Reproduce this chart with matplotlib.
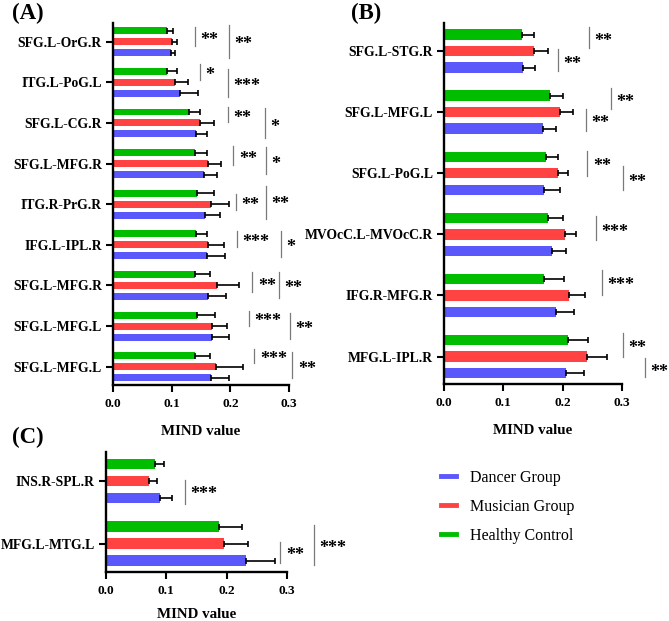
import numpy as np
import matplotlib
matplotlib.use("Agg")
import matplotlib.pyplot as plt
from matplotlib.lines import Line2D

plt.rcParams['font.family'] = ['Liberation Serif', 'DejaVu Serif']

# ---------------- data ----------------
groups = ['Dancer Group', 'Musician Group', 'Healthy Control']
colors = ['#5a57fb', '#ff4343', '#00bd00']

A_labels = ['SFG.L-OrG.R', 'ITG.L-PoG.L', 'SFG.L-CG.R', 'SFG.L-MFG.R', 'ITG.R-PrG.R',
            'IFG.L-IPL.R', 'SFG.L-MFG.R', 'SFG.L-MFG.L', 'SFG.L-MFG.L']
A_dancer = [0.099, 0.114, 0.1415, 0.155, 0.157, 0.161, 0.162, 0.169, 0.1665]
A_dancer_err = [0.0067, 0.031, 0.0185, 0.022, 0.026, 0.030, 0.031, 0.028, 0.0305]
A_musician = [0.100, 0.1057, 0.148, 0.162, 0.1665, 0.162, 0.177, 0.169, 0.176]
A_musician_err = [0.0085, 0.0213, 0.024, 0.0215, 0.0315, 0.027, 0.037, 0.026, 0.046]
A_control = [0.0915, 0.0915, 0.1295, 0.139, 0.1426, 0.1415, 0.140, 0.144, 0.140]
A_control_err = [0.0105, 0.0175, 0.0185, 0.021, 0.029, 0.0195, 0.025, 0.030, 0.026]

B_labels = ['SFG.L-STG.R', 'SFG.L-MFG.L', 'SFG.L-PoG.L', 'MVOcC.L-MVOcC.R',
            'IFG.R-MFG.R', 'MFG.L-IPL.R']
B_dancer = [0.133, 0.1666, 0.168, 0.182, 0.1885, 0.2054]
B_dancer_err = [0.020, 0.0224, 0.027, 0.023, 0.0305, 0.0306]
B_musician = [0.1525, 0.195, 0.1925, 0.2037, 0.211, 0.241]
B_musician_err = [0.0235, 0.023, 0.0165, 0.0193, 0.0265, 0.034]
B_control = [0.1317, 0.179, 0.1716, 0.175, 0.1677, 0.2088]
B_control_err = [0.0193, 0.021, 0.0209, 0.026, 0.0343, 0.0337]

C_labels = ['INS.R-SPL.R', 'MFG.L-MTG.L']
C_dancer = [0.0897, 0.2324]
C_dancer_err = [0.020, 0.047]
C_musician = [0.0714, 0.196]
C_musician_err = [0.0127, 0.039]
C_control = [0.0813, 0.1865]
C_control_err = [0.015, 0.0393]

x_ticks = [0.0, 0.1, 0.2, 0.3]
x_ticklabels = ['0.0', '0.1', '0.2', '0.3']
x_title = 'MIND value'

# significance marks: (row, x of bar line, y-start offset, y-end offset, stars, text y offset)
A_sig = [(0, 0.140, -0.35, 0.10, '**', -0.12), (0, 0.198, -0.40, 0.40, '**', 0.0),
         (1, 0.148, -0.46, -0.06, '*', -0.26), (1, 0.1955, -0.33, 0.36, '***', 0.01),
         (2, 0.1955, -0.40, -0.02, '**', -0.20), (2, 0.259, -0.37, 0.37, '*', 0.02),
         (3, 0.205, -0.43, 0.04, '**', -0.19), (3, 0.261, -0.41, 0.26, '*', -0.06),
         (4, 0.209, -0.25, 0.15, '**', -0.05), (4, 0.261, -0.44, 0.37, '**', -0.07),
         (5, 0.211, -0.33, 0.06, '***', -0.14), (5, 0.286, -0.33, 0.31, '*', -0.01),
         (6, 0.2375, -0.32, 0.17, '**', -0.05), (6, 0.283, -0.32, 0.30, '**', 0.0),
         (7, 0.232, -0.38, -0.01, '***', -0.19), (7, 0.302, -0.33, 0.33, '**', 0.01),
         (8, 0.241, -0.44, -0.10, '***', -0.25), (8, 0.3057, -0.37, 0.27, '**', -0.01)]
B_sig = [(0, 0.2437, -0.39, -0.05, '**', -0.21), (0, 0.192, -0.03, 0.33, '**', 0.16),
         (1, 0.281, -0.40, -0.05, '**', -0.22), (1, 0.2386, -0.05, 0.31, '**', 0.13),
         (2, 0.2414, -0.37, 0.04, '**', -0.17), (2, 0.301, -0.12, 0.27, '**', 0.09),
         (3, 0.256, -0.30, 0.10, '***', -0.09),
         (4, 0.266, -0.41, 0.0, '***', -0.21),
         (5, 0.301, -0.38, 0.0, '**', -0.18), (5, 0.338, 0.02, 0.33, '**', 0.20)]
C_sig = [(0, 0.131, -0.02, 0.36, '***', 0.17),
         (1, 0.289, -0.03, 0.31, '**', 0.14), (1, 0.344, -0.30, 0.34, '***', 0.02)]

# ---------------- figure ----------------
W, H = 669, 621
fig = plt.figure(figsize=(W / 100, H / 100), dpi=100)


def px_axes(x0, y0, x1, y1):
    return fig.add_axes([x0 / W, 1 - y1 / H, (x1 - x0) / W, (y1 - y0) / H])


def draw_panel(ax, labels, series, errs, sigs, labelpad):
    n = len(labels)
    y = np.arange(n)
    offsets = [0.27, 0.0, -0.27]  # dancer bottom, musician middle, control top
    for vals, err, col, off in zip(series, errs, colors, offsets):
        ax.barh(y + off, vals, height=0.17, color=col, edgecolor='none', zorder=2)
        ax.errorbar(vals, y + off, xerr=[np.zeros(n), err], fmt='none', ecolor='black',
                    elinewidth=1.2, capsize=2.4, capthick=1.2, zorder=3, clip_on=False)
    ax.set_xlim(0, 0.3)
    ax.set_ylim(n - 1 + 0.45, -0.46)
    ax.set_yticks(y)
    ax.set_yticklabels(labels, fontsize=9.8, fontweight='bold')
    ax.set_xticks(x_ticks)
    ax.set_xticklabels(x_ticklabels, fontsize=9.6, fontweight='bold')
    ax.set_xlabel(x_title, fontsize=10.8, fontweight='bold', labelpad=labelpad)
    for s in ['top', 'right']:
        ax.spines[s].set_visible(False)
    for s in ['left', 'bottom']:
        ax.spines[s].set_linewidth(1.7)
    ax.tick_params(axis='both', length=5, width=1.5, pad=3)
    ax.tick_params(axis='x', pad=4.5)
    for row, xv, a, b, txt, ty in sigs:
        ax.plot([xv, xv], [row + a, row + b], color='#7a7a7a', lw=0.9, clip_on=False, zorder=4)
        ax.annotate(txt, xy=(xv, row + ty), xytext=(4.0, -5.6), textcoords='offset points',
                    fontsize=13, fontweight='bold', va='baseline', ha='left',
                    annotation_clip=False)


axA = px_axes(113, 23, 289, 385)
draw_panel(axA, A_labels, [A_dancer, A_musician, A_control],
           [A_dancer_err, A_musician_err, A_control_err], A_sig, 11)
axB = px_axes(444, 23, 622, 384)
draw_panel(axB, B_labels, [B_dancer, B_musician, B_control],
           [B_dancer_err, B_musician_err, B_control_err], B_sig, 11)
axC = px_axes(106, 452, 287, 572)
draw_panel(axC, C_labels, [C_dancer, C_musician, C_control],
           [C_dancer_err, C_musician_err, C_control_err], C_sig, 8)

for lab, (xx, yy) in zip(['(A)', '(B)', '(C)'], [(12, 13), (351, 13), (12, 437)]):
    fig.text(xx / W, 1 - yy / H, lab, fontsize=16.5, fontweight='bold', va='center', ha='left')

handles = [Line2D([0], [0], color=c, lw=3.5) for c in colors]
fig.legend(handles, groups, loc='upper left', bbox_to_anchor=(441 / W, 1 - 470 / H),
           frameon=False, fontsize=11.5, handlelength=0.95, handletextpad=0.85,
           labelspacing=0.8, borderpad=0, borderaxespad=0)

fig.savefig('out.png', dpi=100)
